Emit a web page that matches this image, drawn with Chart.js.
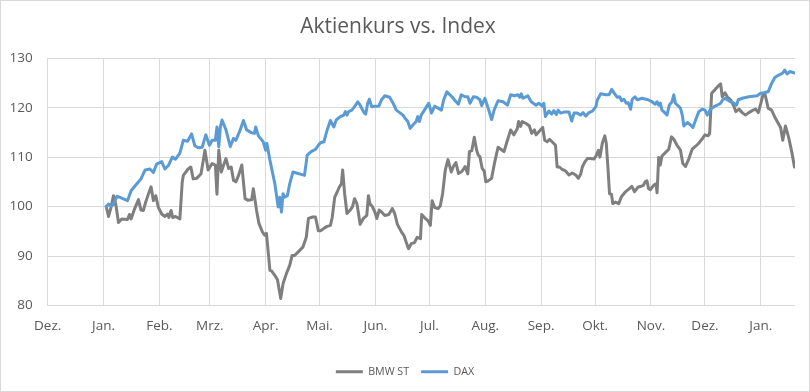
<!DOCTYPE html>
<html>
<head>
<meta charset="utf-8">
<script src="https://cdn.jsdelivr.net/npm/chart.js@4.4.1/dist/chart.umd.min.js"></script>
<style>
  html, body { margin: 0; padding: 0; background: #fff; }
  #wrap { width: 808px; height: 390px; border: 1px solid #d9d9d9; }
</style>
</head>
<body>
<div id="wrap"><canvas id="kurs" width="808" height="390"></canvas></div>
<script>
// x = Tage seit 1. Dez., Werte indexiert (Start = 100)
const monthTicks = [0, 31, 62, 90, 121, 151, 182, 212, 243, 274, 304, 335, 365, 396]
const monthLabels = ["Dez.", "Jan.", "Feb.", "Mrz.", "Apr.", "Mai.", "Jun.", "Jul.", "Aug.", "Sep.", "Okt.", "Nov.", "Dez.", "Jan."]

const bmwDays = [
  32.5, 33.8, 35.2, 36.5, 37.8, 39.3, 41.1, 44.3, 45.4, 46.3, 48.2, 50.4, 51.8, 53.1, 54.4, 55.9, 57.4, 58.7, 60.0, 61.4,
  63.3, 65.1, 66.6, 67.3, 68.5, 69.4, 71.0, 73.4, 74.7, 75.3, 78.0, 79.5, 80.8, 82.7, 85.1, 86.4, 87.3,
  89.1, 91.3, 93.1, 94.0, 95.0, 96.4, 97.7, 99.0, 100.5, 101.9, 103.2, 104.5, 106.0, 107.8, 109.6, 111.1, 113.3, 114.2,
  116.0, 117.3, 119.2, 120.6, 121.5, 123.4, 124.3, 126.1, 127.6, 129.4, 130.7, 132.5, 134.4, 135.7, 137.1, 139.0, 141.7,
  143.6, 144.8, 147.2,
  148.7, 150.3, 151.5, 153.4, 155.2, 157.0, 158.0, 159.4, 160.7, 162.0, 163.1, 163.8, 164.9, 166.2, 168.0, 169.3, 170.4,
  171.7, 172.6, 173.5, 175.3, 176.3, 177.2, 178.1, 179.0, 180.3, 181.7, 182.8, 184.1, 185.4, 187.2, 189.4, 191.4, 192.7,
  194.2, 196.4, 197.8, 199.1, 200.4, 201.9, 203.7, 205.2, 207.0, 207.7, 209.7,
  211.3, 212.5, 213.5, 214.9, 216.8, 218.0, 219.3, 220.8, 222.3, 224.1, 225.4, 226.7, 228.1, 230.0, 231.8, 233.3, 234.2,
  235.5, 236.9, 238.2, 239.1, 240.0, 241.3, 242.4, 243.3, 244.6, 246.5, 248.3, 250.1, 252.0, 253.4, 255.3, 257.1, 258.9,
  260.8, 261.5, 262.6, 263.5, 265.7, 267.5, 268.8, 270.3, 271.2,
  273.6, 274.9, 276.0, 277.4, 278.7, 280.1, 282.0, 282.9, 284.2, 285.7, 287.6, 289.5, 291.3, 293.2, 294.7, 296.0, 296.9,
  298.4, 299.7, 301.6, 303.4, 304.7, 305.8, 306.7, 308.0, 309.4, 310.2, 311.2, 312.0, 313.1, 313.8, 315.3, 317.1, 318.6,
  320.4, 322.2, 324.4, 325.9, 327.7, 329.5, 330.8,
  331.8, 332.8, 333.7, 334.6, 336.5, 337.8, 338.4, 339.3, 340.2, 341.1, 343.0, 344.9, 346.4, 347.7, 349.5, 351.4, 352.7,
  354.2, 356.1, 357.9, 359.8, 361.3, 363.1, 365.0, 366.8, 367.6, 368.7, 370.5, 372.4, 373.7, 374.6, 376.1, 377.4, 379.2,
  381.1, 382.1, 383.9, 385.7, 387.5, 389.4, 391.2, 393.1, 394.6, 395.9, 397.2, 398.3, 400.1, 402.0, 404.2, 407.0, 408.2,
  409.7, 411.6, 413.4, 414.7
]
const bmwValues = [
  100, 98.0, 99.9, 102.2, 100.5, 96.8, 97.5, 97.4, 98.4, 97.5, 99.5, 101.4, 99.3, 99.2, 100.9, 102.5, 104.0, 101.2, 102.2, 99.9,
  98.5, 98.0, 98.5, 97.8, 99.2, 97.8, 98.0, 97.5, 104.9, 106.3, 107.6, 108.0, 105.6, 105.7, 106.6, 109.3, 111.4,
  107.4, 108.7, 108.4, 102.5, 111.4, 107.0, 108.4, 109.7, 107.7, 108.0, 105.3, 105.0, 106.3, 108.4, 101.6, 101.3, 101.4, 103.6,
  99.2, 96.6, 94.9, 94.2, 94.6, 87.1, 87.0, 86.1, 85.2, 81.4, 84.4, 86.4, 88.1, 90.1, 90.1, 90.8, 91.8,
  93.8, 97.6, 97.9,
  97.9, 95.1, 95.1, 95.6, 96.0, 96.2, 97.8, 101.9, 102.9, 104.0, 104.6, 107.4, 102.6, 98.6, 99.3, 100.0, 101.6,
  100.6, 98.6, 96.4, 97.6, 97.9, 98.2, 102.2, 100.5, 100.0, 98.9, 97.6, 99.3, 98.9, 98.2, 98.4, 99.6, 98.6,
  96.4, 94.9, 94.2, 92.8, 91.5, 92.5, 92.7, 93.8, 93.5, 98.4, 97.6,
  97.1, 96.2, 101.2, 99.8, 99.6, 100.1, 102.6, 107.4, 109.5, 107.0, 108.2, 108.9, 106.7, 107.1, 108.1, 106.6, 111.1,
  111.3, 114.0, 111.4, 110.4, 110.1, 107.7, 107.2, 105.0, 105.2, 105.7, 109.1, 112.0, 111.5, 111.1, 113.4, 115.5, 114.5,
  115.8, 117.2, 116.2, 117.2, 116.8, 116.3, 114.8, 115.5, 114.5,
  115.5, 116.0, 113.4, 113.1, 113.6, 113.1, 112.4, 108.0, 108.0, 107.5, 107.2, 106.4, 106.8, 106.4, 105.7, 106.6, 108.0,
  109.1, 109.7, 109.7, 109.6, 110.4, 111.4, 110.0, 112.8, 114.3, 112.8, 107.4, 102.6, 102.5, 100.6, 100.9, 100.6, 102.0,
  102.8, 103.4, 104.1, 103.0, 103.9, 104.1, 104.3,
  105.0, 105.2, 103.6, 103.4, 104.3, 104.6, 102.8, 109.9, 108.4, 110.2, 110.9, 111.6, 114.1, 113.6, 112.4, 111.4, 108.7,
  108.1, 109.7, 111.6, 112.2, 112.7, 113.5, 114.5, 114.3, 114.8, 122.9, 123.6, 124.4, 124.8, 122.2, 123.0, 122.2, 121.6,
  120.3, 119.2, 119.7, 119.0, 118.5, 119.0, 119.4, 119.7, 119.0, 120.7, 122.6, 122.8, 119.9, 119.5, 117.8, 116.0, 113.4,
  116.3, 113.8, 110.7, 108.0
]

const daxDays = [
  32.5, 33.8, 35.2, 36.5, 38.4, 41.1, 44.3, 46.3, 49.5, 51.8, 54.1, 56.8, 58.7, 60.5, 63.3, 65.1, 67.0, 69.2, 71.0, 73.4,
  75.3, 77.7, 79.9, 81.7, 83.6, 85.8, 87.8,
  89.8, 91.3, 93.1, 94.0, 95.0, 95.9, 96.8, 99.0, 101.4, 103.2, 104.5, 106.9, 108.7, 110.5, 113.3, 114.8, 115.5, 117.0,
  119.7, 121.0, 121.7, 123.4, 126.1, 128.0, 128.9, 129.8, 130.7, 131.6, 133.1, 134.4, 136.2, 138.1, 140.8, 142.6, 144.1,
  146.3,
  148.8, 150.3, 151.5, 153.4, 155.2, 157.0, 158.9, 160.2, 162.5, 164.4, 165.3, 166.2, 167.1, 168.9, 170.4, 172.2, 173.5,
  175.8, 176.6, 177.7, 178.6, 179.9, 181.7, 183.9, 185.4, 187.2, 189.9, 191.8, 193.6, 195.5, 197.3, 198.6, 200.0, 201.3,
  202.8, 204.6, 205.5, 206.4, 207.4, 209.2,
  211.6, 213.1, 214.9, 216.8, 218.6, 219.9, 221.7, 224.5, 226.3, 228.1, 229.6, 231.8, 233.3, 234.5, 236.4, 238.2, 240.0,
  241.0, 242.8, 244.6, 246.5, 247.9, 250.1, 252.9, 255.3, 257.1, 259.3, 261.2, 262.1, 263.0, 263.9, 266.6, 268.5, 271.2,
  272.7, 274.6, 275.5, 276.4, 278.3, 279.8, 281.1, 282.4, 283.5, 284.8, 286.7, 289.5, 291.0, 292.3, 294.1, 296.0, 297.3,
  298.8, 300.6, 302.5, 304.4, 305.3, 307.1, 309.9, 311.7, 313.2, 314.5, 316.3, 317.6, 318.7, 320.0, 321.3, 322.4, 323.7,
  324.6, 326.1, 327.4, 330.1,
  333.3, 335.6, 337.4, 338.4, 339.3, 340.2, 341.1, 342.1, 343.9, 345.2, 346.7, 347.7, 348.6, 351.4, 352.4, 353.3, 355.2,
  357.0, 358.3, 359.8, 361.6, 363.5, 365.0, 366.3, 368.1, 370.0, 371.8, 373.7, 374.9, 376.1, 377.4, 379.2, 381.1, 382.5,
  383.5, 385.7, 389.4, 394.0, 395.9, 397.7, 400.1, 402.0, 403.8, 406.0, 408.2, 409.3, 410.6, 412.1, 414.9
]
const daxValues = [
  100, 100.5, 100.2, 100.4, 102.1, 101.7, 101.2, 103.2, 104.6, 105.6, 107.4, 107.6, 106.9, 108.6, 109.1, 107.6, 108.3, 110.0, 109.6, 110.8,
  113.4, 113.2, 114.7, 112.3, 111.9, 112.0, 114.5,
  112.4, 113.4, 113.4, 116.1, 112.1, 116.1, 117.5, 115.5, 112.1, 113.8, 113.4, 115.5, 117.4, 115.5, 114.9, 114.8, 116.1, 114.3,
  113.1, 111.4, 112.8, 109.4, 104.7, 99.9, 101.9, 98.9, 102.6, 101.9, 102.2, 104.6, 107.0, 106.8, 106.5, 106.3, 110.4,
  111.1,
  111.6, 112.4, 112.9, 113.1, 115.5, 117.4, 116.1, 117.5, 118.2, 118.5, 119.2, 118.5, 119.2, 119.5, 120.2, 121.2, 120.5,
  118.9, 118.7, 120.9, 121.7, 120.2, 120.3, 120.3, 121.6, 122.4, 122.1, 120.9, 119.5, 119.0, 118.5, 117.8, 117.2, 115.8,
  116.5, 117.2, 118.2, 117.2, 118.5, 119.5,
  120.9, 118.9, 120.3, 119.9, 119.5, 121.6, 123.2, 122.2, 121.4, 120.7, 122.6, 122.2, 122.2, 120.9, 122.2, 122.1, 121.6,
  120.4, 121.9, 119.9, 117.6, 119.5, 121.4, 121.2, 120.5, 122.6, 122.4, 122.6, 122.1, 122.8, 121.9, 122.4, 121.2, 120.5,
  120.9, 120.3, 120.9, 118.2, 119.3, 118.7, 119.4, 118.6, 119.5, 118.9, 119.1, 119.1, 117.3, 118.9, 118.9, 118.5, 119.0,
  118.3, 119.0, 119.3, 120.2, 121.6, 122.8, 122.6, 122.6, 123.7, 123.0, 122.1, 122.2, 121.4, 121.7, 120.9, 121.0, 119.7,
  121.7, 122.2, 121.6, 121.9,
  121.6, 121.2, 120.7, 121.2, 120.5, 120.9, 119.5, 119.2, 118.5, 120.5, 121.2, 122.6, 120.9, 119.9, 118.5, 116.3, 117.0,
  116.5, 116.0, 117.5, 119.2, 119.7, 119.5, 118.5, 119.7, 120.2, 120.5, 120.9, 121.6, 121.9, 121.6, 121.2, 120.9, 120.5,
  121.6, 121.9, 122.2, 122.4, 122.9, 123.0, 123.2, 124.9, 126.1, 126.6, 127.0, 127.6, 126.8, 127.3, 127.0
]

const toPoints = (days, values) => days.map((d, i) => ({ x: d, y: values[i] }))

const textColor = "#595959"
const gridColor = "#d9d9d9"
const font = "'Open Sans', 'DejaVu Sans', sans-serif"

// Legende etwas nach rechts schieben (wie im Original)
const legendShift = {
  id: "legendShift",
  afterLayout(chart) {
    chart.legend.left += 7
    chart.legend.right += 7
  },
}

new Chart(document.getElementById("kurs"), {
  type: "line",
  data: {
    datasets: [{
      label: "BMW ST",
      data: toPoints(bmwDays, bmwValues),
      borderColor: "#7f7f7f",
      backgroundColor: "#7f7f7f",
      order: 1,
    }, {
      label: "DAX",
      data: toPoints(daxDays, daxValues),
      borderColor: "#5b9bd5",
      backgroundColor: "#5b9bd5",
      order: 0,
    }],
  },
  options: {
    responsive: false,
    animation: false,
    events: [],
    elements: {
      point: { radius: 0 },
      line: { borderWidth: 3, tension: 0, borderJoinStyle: "round", borderCapStyle: "round" },
    },
    layout: {
      padding: { top: 0, right: 14, bottom: 4, left: 0 }
    },
    scales: {
      x: {
        type: "linear",
        min: 0,
        max: 415,
        afterBuildTicks: (scale) => {
          scale.ticks = monthTicks.map(v => ({ value: v }))
        },
        afterFit: (scale) => { scale.height = 48.8 },
        ticks: {
          autoSkip: false,
          maxRotation: 0,
          padding: 13,
          color: textColor,
          font: { family: font, size: 13.5 },
          callback: (value) => monthLabels[monthTicks.indexOf(value)],
        },
        grid: { color: gridColor, drawTicks: false },
        border: { display: false },
      },
      y: {
        min: 80,
        max: 130,
        afterFit: (scale) => { scale.width = 46.7 },
        ticks: {
          stepSize: 10,
          padding: 15,
          color: textColor,
          font: { family: font, size: 13.5 },
        },
        grid: { color: gridColor, drawTicks: false },
        border: { display: false },
      },
    },
    plugins: {
      title: {
        display: true,
        text: "Aktienkurs vs. Index",
        color: textColor,
        font: { family: font, size: 21, weight: "normal" },
        padding: { top: 13, bottom: 19 },
      },
      legend: {
        position: "bottom",
        labels: {
          boxWidth: 27,
          boxHeight: 3,
          padding: 12,
          color: textColor,
          font: { family: font, size: 10.7 },
          sort: (a, b) => a.datasetIndex - b.datasetIndex,
          generateLabels: (chart) => Chart.defaults.plugins.legend.labels.generateLabels(chart)
            .map(item => ({ ...item, lineWidth: 0 })),
        },
      },
      tooltip: { enabled: false },
    },
  },
  plugins: [legendShift],
})
</script>
</body>
</html>
